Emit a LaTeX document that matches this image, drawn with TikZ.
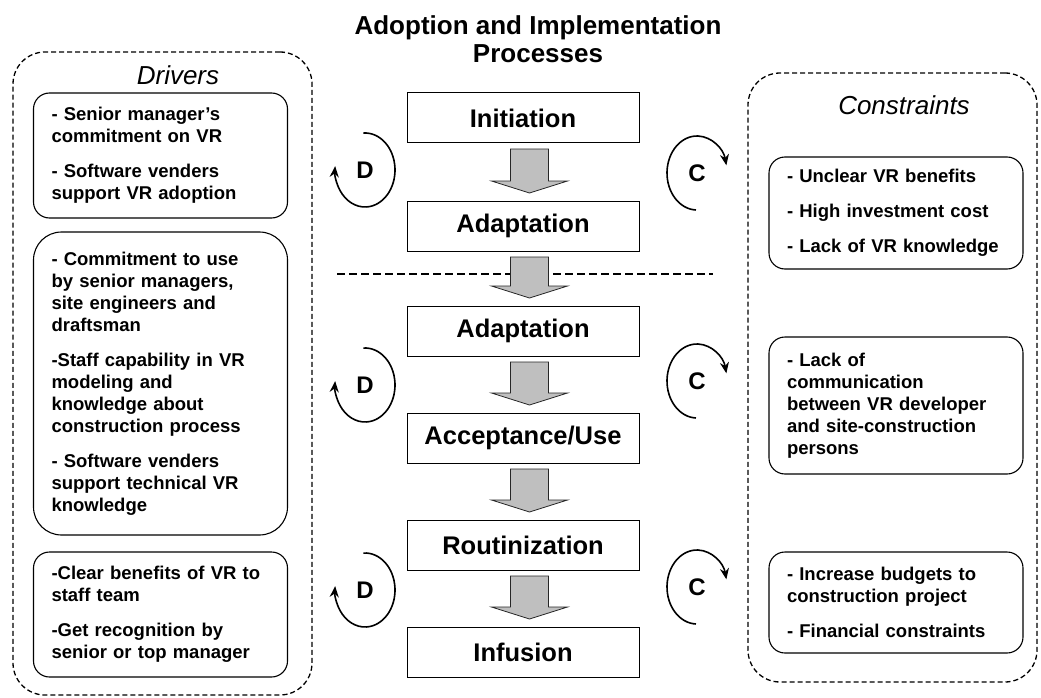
\documentclass[tikz,border=0pt]{standalone}
\usepackage{fontspec}
\setmainfont{Liberation Sans}
\usetikzlibrary{arrows.meta,calc}

% gray block arrow between two stacked stage boxes
\newcommand\flowarrow[2]{%
  \path[blockarrow] let \p1=(#1.south), \p2=(#2.north) in
    ({\x1+6.5pt-19pt},{\y1-6pt}) -- ({\x1+6.5pt+19pt},{\y1-6pt})
    -- ({\x1+6.5pt+19pt},{\y2+20pt}) -- ({\x1+6.5pt+38pt},{\y2+20pt})
    -- ({\x1+6.5pt},{\y2+8pt})
    -- ({\x1+6.5pt-38pt},{\y2+20pt}) -- ({\x1+6.5pt-19pt},{\y2+20pt}) -- cycle;}

\begin{document}
\begin{tikzpicture}[x=1pt,y=1pt,
  every node/.style={inner sep=0pt, outer sep=0pt},
  title/.style={font=\fontsize{26}{28}\selectfont\bfseries, align=center},
  grouplabel/.style={font=\fontsize{26}{30}\selectfont\itshape},
  groupbox/.style={draw, line width=1.3pt, dash pattern=on 5pt off 3pt, rounded corners=32pt},
  factor/.style={draw, line width=1.1pt, rounded corners=16pt, align=left,
    text width=218pt, inner xsep=18pt,
    font=\fontsize{18.5}{22}\selectfont\bfseries},
  stage/.style={draw, line width=1pt, minimum width=232pt, minimum height=50pt,
    font=\fontsize{25.5}{30}\selectfont\bfseries},
  blockarrow/.style={draw=black!85, line width=0.8pt, fill=black!25},
  loopletter/.style={font=\fontsize{24}{28}\selectfont\bfseries},
  loopline/.style={line width=1.6pt, -{Stealth[length=11pt,width=9pt]}},
  separator/.style={line width=1.3pt, dash pattern=on 8pt off 4pt}
]
\useasboundingbox (0,-698) rectangle (1041,0);

% title
\node[title] (title) at (538,-39) {Adoption and Implementation\\Processes};

% group frames
\node[groupbox, minimum width=299pt, minimum height=643pt] (drivers) at (162.5,-373.5) {};
\node[groupbox, minimum width=289pt, minimum height=609pt] (constraints) at (892.5,-377.5) {};
\node[grouplabel] (drvlabel) at (178,-75) {Drivers};
\node[grouplabel] (conlabel) at (904,-105) {Constraints};

% driver factors
\node[factor, minimum height=125pt] (dbox1) at (160.5,-155.5)
  {- Senior manager’s\\ commitment on VR\\[13pt] - Software venders\\ support VR adoption};
\node[factor, minimum height=303pt, rounded corners=28pt] (dbox2) at (160.5,-383.5)
  {- Commitment to use\\ by senior managers,\\ site engineers and\\ draftsman\\[13pt]
   -Staff capability in VR\\ modeling and\\ knowledge about\\ construction process\\[13pt]
   - Software venders\\ support technical VR\\ knowledge};
\node[factor, minimum height=125pt] (dbox3) at (160.5,-614.5)
  {-Clear benefits of VR to\\ staff team\\[13pt] -Get recognition by\\ senior or top manager};

% constraint factors
\node[factor, minimum height=112pt] (cbox1) at (896,-213)
  {- Unclear VR benefits\\[13pt] - High investment cost\\[13pt] - Lack of VR knowledge};
\node[factor, minimum height=137pt] (cbox2) at (896,-405.5)
  {- Lack of\\ communication\\ between VR developer\\ and site-construction\\ persons};
\node[factor, minimum height=101pt] (cbox3) at (896,-602.5)
  {- Increase budgets to\\ construction project\\[13pt] - Financial constraints};

% process stages
\node[stage] (s1) at (523,-118) {Initiation};
\node[stage] (s2) at (523,-226) {Adaptation};
\node[stage] (s3) at (523,-331) {Adaptation};
\node[stage] (s4) at (523,-438) {Acceptance/Use};
\node[stage] (s5) at (523,-545) {Routinization};
\node[stage] (s6) at (523,-652) {Infusion};

% boundary between the adoption and implementation phases
\coordinate (sepL) at (337,-274);
\coordinate (sepR) at (713,-274);
\draw[separator] (sepL) -- (sepR);

\flowarrow{s1}{s2}
\flowarrow{s2}{s3}
\flowarrow{s3}{s4}
\flowarrow{s4}{s5}
\flowarrow{s5}{s6}

% driver loops: clockwise from the top, ending upward on the left
\foreach \n/\y in {1/170, 2/385, 3/590} {
  \node[loopletter] (d\n) at (365,-\y) {D};
  \draw[loopline] ([shift={(93:30 and 37)}]d\n.center)
    arc[start angle=93, delta angle=-279, x radius=30, y radius=37];
}
% constraint loops: clockwise from the bottom, ending downward on the right
\foreach \n/\y in {1/173, 2/381, 3/587} {
  \node[loopletter] (c\n) at (697,-\y) {C};
  \draw[loopline] ([shift={(268:30 and 37)}]c\n.center)
    arc[start angle=268, delta angle=-256, x radius=30, y radius=37];
}
\end{tikzpicture}
\end{document}
